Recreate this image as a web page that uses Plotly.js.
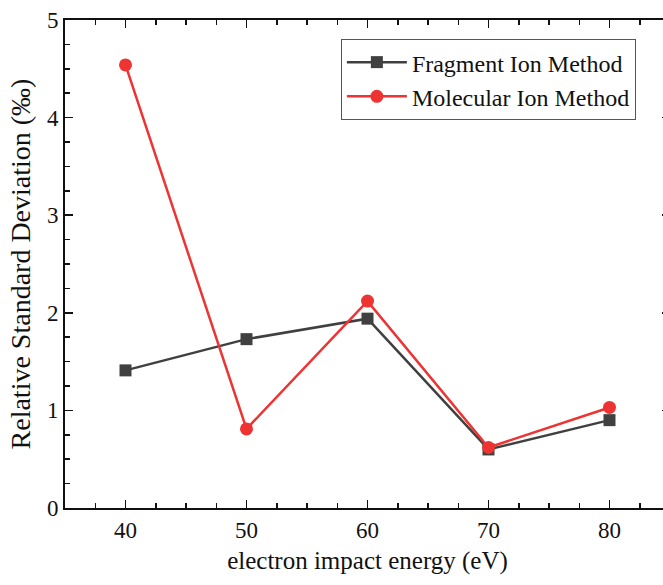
<!DOCTYPE html>
<html>
<head>
<meta charset="utf-8">
<script src="https://cdn.plot.ly/plotly-3.0.1.min.js"></script>
<style>
html,body{margin:0;padding:0;overflow:hidden;background:#fff;}
#chart{width:680px;height:585px;}
</style>
</head>
<body>
<div id="chart"></div>
<script>
const energy = [40, 50, 60, 70, 80];
const fragmentRSD = [1.41, 1.73, 1.94, 0.60, 0.90];
const molecularRSD = [4.54, 0.81, 2.12, 0.62, 1.03];
const seriesNames = ['Fragment Ion Method', 'Molecular Ion Method'];
const xTickVals = [40, 50, 60, 70, 80];
const yTickVals = [0, 1, 2, 3, 4, 5];

const FONT = '"Liberation Serif", "Times New Roman", serif';

const traces = [
  {
    x: energy, y: fragmentRSD, name: seriesNames[0], type: 'scatter', mode: 'lines+markers',
    line: {color: '#404040', width: 2.5},
    marker: {symbol: 'square', size: 12, color: '#404040'}
  },
  {
    x: energy, y: molecularRSD, name: seriesNames[1], type: 'scatter', mode: 'lines+markers',
    line: {color: '#ee3333', width: 2.5},
    marker: {symbol: 'circle', size: 13, color: '#ee3333'}
  }
];

const layout = {
  width: 680, height: 585,
  margin: {l: 65, r: 10, t: 20, b: 77},
  paper_bgcolor: '#fff', plot_bgcolor: '#fff',
  font: {family: FONT, size: 23, color: '#111'},
  showlegend: true,
  legend: {
    x: 0.456, y: 0.961, xanchor: 'left', yanchor: 'top',
    bgcolor: '#fff', bordercolor: '#555', borderwidth: 1,
    font: {family: FONT, size: 24, color: '#111'},
    itemwidth: 60, tracegroupgap: 0
  },
  xaxis: {
    range: [35, 85], tickvals: xTickVals, ticks: 'inside', ticklen: 8, tickwidth: 1.5,
    tickcolor: '#111', showline: true, linecolor: '#111', linewidth: 2, mirror: 'ticks',
    showgrid: false, zeroline: false,
    minor: {dtick: 2.5, tick0: 0, ticks: 'inside', ticklen: 5, tickwidth: 1.5, tickcolor: '#111', showgrid: false},
    title: {text: 'electron impact energy (eV)', font: {family: FONT, size: 25, color: '#111'}, standoff: 10},
    tickfont: {family: FONT, size: 23, color: '#111'}
  },
  yaxis: {
    range: [0, 5], tickvals: yTickVals, ticks: 'inside', ticklen: 8, tickwidth: 1.5,
    tickcolor: '#111', showline: true, linecolor: '#111', linewidth: 2, mirror: 'ticks',
    showgrid: false, zeroline: false,
    minor: {dtick: 0.25, tick0: 0, ticks: 'inside', ticklen: 5, tickwidth: 1.5, tickcolor: '#111', showgrid: false},
    title: {text: 'Relative Standard Deviation (‰)', font: {family: FONT, size: 28, color: '#111'}, standoff: 8},
    tickfont: {family: FONT, size: 23, color: '#111'}
  }
};

Plotly.newPlot('chart', traces, layout, {displayModeBar: false, staticPlot: true});
</script>
</body>
</html>
